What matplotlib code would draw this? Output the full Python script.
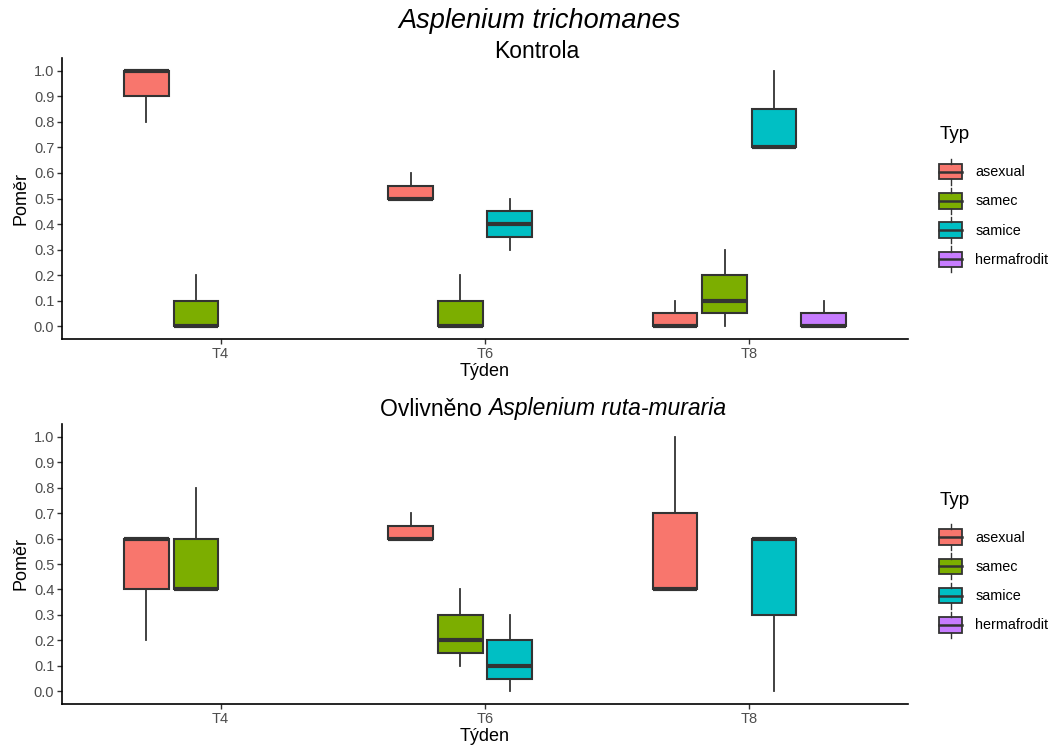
"""
Boxploty poměru typů gametofytů (Asplenium trichomanes) v týdnech T4-T8,
kontrola vs. ovlivněno A. ruta-muraria.
"""

import matplotlib
matplotlib.use('Agg')
import matplotlib.pyplot as plt
from matplotlib.patches import Patch, Rectangle
from matplotlib.lines import Line2D
from matplotlib.legend_handler import HandlerBase
from matplotlib.offsetbox import TextArea, HPacker, AnchoredOffsetbox

plt.rcParams['font.family'] = ['Liberation Sans', 'DejaVu Sans']

weeks = ['T4', 'T6', 'T8']
types = ['asexual', 'samec', 'samice', 'hermafrodit']
colors = ['#F8766D', '#7CAE00', '#00BFC4', '#C77CFF']

# Kontrola: one row per box (week, type, whisker low, q1, median, q3, whisker high)
ctrl_week = ['T4', 'T4', 'T6', 'T6', 'T6', 'T8', 'T8', 'T8', 'T8']
ctrl_type = ['asexual', 'samec', 'asexual', 'samec', 'samice',
             'asexual', 'samec', 'samice', 'hermafrodit']
ctrl_lo = [0.8, 0.0, 0.5, 0.0, 0.3, 0.0, 0.0, 0.7, 0.0]
ctrl_q1 = [0.9, 0.0, 0.5, 0.0, 0.35, 0.0, 0.05, 0.7, 0.0]
ctrl_med = [1.0, 0.0, 0.5, 0.0, 0.4, 0.0, 0.1, 0.7, 0.0]
ctrl_q3 = [1.0, 0.1, 0.55, 0.1, 0.45, 0.05, 0.2, 0.85, 0.05]
ctrl_hi = [1.0, 0.2, 0.6, 0.2, 0.5, 0.1, 0.3, 1.0, 0.1]

# Ovlivněno Asplenium ruta-muraria
rm_week = ['T4', 'T4', 'T6', 'T6', 'T6', 'T8', 'T8']
rm_type = ['asexual', 'samec', 'asexual', 'samec', 'samice', 'asexual', 'samice']
rm_lo = [0.2, 0.4, 0.6, 0.1, 0.0, 0.4, 0.0]
rm_q1 = [0.4, 0.4, 0.6, 0.15, 0.05, 0.4, 0.3]
rm_med = [0.6, 0.4, 0.6, 0.2, 0.1, 0.4, 0.6]
rm_q3 = [0.6, 0.6, 0.65, 0.3, 0.2, 0.7, 0.6]
rm_hi = [0.6, 0.8, 0.7, 0.4, 0.3, 1.0, 0.6]

EDGE = '#333333'
DODGE = 0.75
SLOT = DODGE / len(types)


class BoxKeyHandler(HandlerBase):
    """ggplot-like legend key: small box with median line and whisker stubs."""

    def create_artists(self, legend, orig_handle, xdescent, ydescent,
                       width, height, fontsize, trans):
        x0, y0 = -xdescent, -ydescent
        w = width
        rect = Rectangle((x0, y0 + 0.2 * height), w, 0.6 * height,
                         facecolor=orig_handle.get_facecolor(), edgecolor=EDGE,
                         linewidth=1.3, transform=trans)
        med = Line2D([x0, x0 + w], [y0 + 0.5 * height] * 2, color=EDGE,
                     linewidth=1.8, transform=trans)
        top = Line2D([x0 + w / 2] * 2, [y0 + 0.8 * height, y0 + height],
                     color=EDGE, linewidth=1.0, transform=trans)
        bot = Line2D([x0 + w / 2] * 2, [y0, y0 + 0.2 * height],
                     color=EDGE, linewidth=1.0, transform=trans)
        return [rect, med, top, bot]


def draw_panel(ax, wk, tp, lo, q1, med, q3, hi):
    for i in range(len(wk)):
        ti = types.index(tp[i])
        pos = weeks.index(wk[i]) + 1 + (ti - (len(types) - 1) / 2) * SLOT
        stats = [dict(whislo=lo[i], q1=q1[i], med=med[i], q3=q3[i], whishi=hi[i])]
        ax.bxp(stats, positions=[pos], widths=SLOT * 0.9, patch_artist=True,
               showfliers=False, showcaps=False,
               boxprops=dict(facecolor=colors[ti], edgecolor=EDGE, linewidth=1.5),
               medianprops=dict(color=EDGE, linewidth=3.0, solid_capstyle='butt'),
               whiskerprops=dict(color=EDGE, linewidth=1.3))

    ax.set_xlim(0.4, 3.6)
    ax.set_ylim(-0.05, 1.05)
    ax.set_xticks(range(1, len(weeks) + 1))
    ax.set_xticklabels(weeks)
    ax.set_yticks([i / 10 for i in range(11)])
    ax.set_yticklabels([f'{i / 10:.1f}' for i in range(11)])
    for side in ('top', 'right'):
        ax.spines[side].set_visible(False)
    for side in ('left', 'bottom'):
        ax.spines[side].set_linewidth(1.2)
        ax.spines[side].set_color('black')
    ax.tick_params(axis='both', colors='#333333', labelcolor='#4D4D4D',
                   labelsize=10.5, length=3.5, width=1.0, direction='out', pad=2)
    ax.set_xlabel('Týden', fontsize=13, labelpad=2)
    ax.set_ylabel('Poměr', fontsize=13, labelpad=3)

    handles = [Patch(facecolor=c, label=t) for c, t in zip(colors, types)]
    leg = ax.legend(handles=handles, title='Typ', loc='center left',
                    bbox_to_anchor=(1.037, 0.497), frameon=False,
                    fontsize=10.4, title_fontsize=13.5,
                    handler_map={Patch: BoxKeyHandler()},
                    handlelength=1.6, handleheight=2.4, labelspacing=0.22,
                    handletextpad=0.9, borderaxespad=0, borderpad=0)
    leg._legend_box.align = 'left'
    leg._legend_box.sep = 11


fig = plt.figure(figsize=(10.61, 7.49), dpi=100)
ax1 = fig.add_axes([62 / 1061, 1 - 339 / 749, (908 - 62) / 1061, (339 - 58) / 749])
ax2 = fig.add_axes([62 / 1061, 1 - 704 / 749, (908 - 62) / 1061, (704 - 424) / 749])

draw_panel(ax1, ctrl_week, ctrl_type, ctrl_lo, ctrl_q1, ctrl_med, ctrl_q3, ctrl_hi)
draw_panel(ax2, rm_week, rm_type, rm_lo, rm_q1, rm_med, rm_q3, rm_hi)

fig.text(540 / 1061, 1 - 21 / 749, 'Asplenium trichomanes', style='italic',
         fontsize=19.5, ha='center', va='center')
fig.text(537 / 1061, 1 - 51 / 749, 'Kontrola', fontsize=16.5,
         ha='center', va='center')

title2 = HPacker(children=[
    TextArea('Ovlivněno ', textprops=dict(fontsize=16.5)),
    TextArea('Asplenium ruta-muraria', textprops=dict(fontsize=16.5, style='italic')),
], pad=0, sep=0, align='baseline')
anchored = AnchoredOffsetbox(loc='center', child=title2, frameon=False, pad=0,
                             borderpad=0, bbox_to_anchor=(553 / 1061, 1 - 409 / 749),
                             bbox_transform=fig.transFigure)
fig.add_artist(anchored)

fig.savefig('out.png', dpi=100)
